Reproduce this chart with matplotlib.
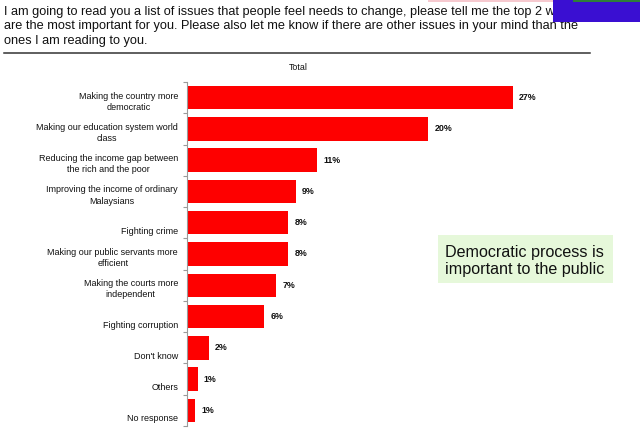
import matplotlib.pyplot as plt
from matplotlib import font_manager
from matplotlib.patches import Rectangle
from matplotlib.lines import Line2D

# survey answers, top to bottom
issues = [
    "Making the country more\ndemocratic",
    "Making our education system world\nclass",
    "Reducing the income gap between\nthe rich and the poor",
    "Improving the income of ordinary\nMalaysians",
    "Fighting crime",
    "Making our public servants more\nefficient",
    "Making the courts more\nindependent",
    "Fighting corruption",
    "Don't know",
    "Others",
    "No response",
]
shares = [27.0, 20.0, 10.8, 9.0, 8.4, 8.4, 7.4, 6.4, 1.8, 0.9, 0.7]
share_labels = ["27%", "20%", "11%", "9%", "8%", "8%", "7%", "6%", "2%", "1%", "1%"]

question = ("I am going to read you a list of issues that people feel needs to change, please tell me the top 2 which\n"
            "are the most important for you. Please also let me know if there are other issues in your mind than the\n"
            "ones I am reading to you.")
note = "Democratic process is\nimportant to the public"

W, H = 640, 428
plain = ["Liberation Sans", "DejaVu Sans"]

# narrow face for the chart labels if it is there
try:
    font_manager.findfont("Liberation Sans Narrow", fallback_to_default=False)
    narrow = ["Liberation Sans Narrow", "Liberation Sans"]
    lab_size, val_size = 7.6, 7.0
except Exception:
    narrow = plain
    lab_size, val_size = 6.5, 6.4

fig = plt.figure(figsize=(W / 100, H / 100), dpi=100)
fig.patch.set_facecolor("white")

# axes: left edge at x=187px, category band from y=82 to 426 px
ax = fig.add_axes([187 / W, (H - 426) / H, 362 / W, 344 / H])
n = len(issues)
pos = list(range(n))
ax.barh(pos, shares, height=0.75, color="#fe0000", edgecolor="none")
ax.set_xlim(0, 30)
ax.set_ylim(n - 0.5, -0.5)

for s in ["top", "right", "bottom"]:
    ax.spines[s].set_visible(False)
ax.spines["left"].set_color("#9a9a9a")
ax.spines["left"].set_linewidth(0.8)
ax.set_xticks([])
ax.set_yticks([p - 0.5 for p in pos] + [n - 0.5])
ax.set_yticklabels([])
ax.tick_params(axis="y", length=3, color="#9a9a9a", width=0.8)

for i, (lab, v, txt) in enumerate(zip(issues, shares, share_labels)):
    dy = 6 if "\n" in lab else -4
    ax.annotate(lab, xy=(0, i), xycoords=("axes fraction", "data"),
                xytext=(-9, dy), textcoords="offset pixels",
                ha="right", va="top", multialignment="center",
                fontsize=lab_size, family=narrow, color="#111111", linespacing=1.3)
    ax.annotate(txt, xy=(v, i), xytext=(6, 0), textcoords="offset pixels",
                ha="left", va="center", fontsize=val_size, fontweight="bold",
                family=narrow, color="#111111")

# header question and rule
fig.text(4 / W, 1 - 6 / H, question, ha="left", va="top", fontsize=9.2,
         family=plain, color="#111111", linespacing=1.27)
fig.add_artist(Line2D([4 / W, 590 / W], [1 - 53 / H, 1 - 53 / H],
                      color="#333333", linewidth=1.1))
fig.text(298 / W, 1 - 68 / H, "Total", ha="center", va="center",
         fontsize=val_size, family=narrow, color="#111111")

# green call-out box
fig.add_artist(Rectangle((438 / W, 1 - 283 / H), 175 / W, 48 / H,
                         facecolor="#e6f8da", edgecolor="none"))
fig.text(445 / W, 1 - 261 / H, note, ha="left", va="center", fontsize=11.6,
         family=plain, color="#111111", linespacing=1.15)

# overlapping window fragment at the top right
fig.add_artist(Rectangle((428 / W, 1 - 2 / H), 125 / W, 2 / H,
                         facecolor="#f6c9cf", edgecolor="none"))
fig.add_artist(Rectangle((553 / W, 1 - 22 / H), 87 / W, 22 / H,
                         facecolor="#3a0fd2", edgecolor="none", zorder=5))
fig.add_artist(Rectangle((573 / W, 1 - 2 / H), 67 / W, 2 / H,
                         facecolor="#2e7d3a", edgecolor="none", zorder=6))

fig.savefig("out.png", dpi=100)
